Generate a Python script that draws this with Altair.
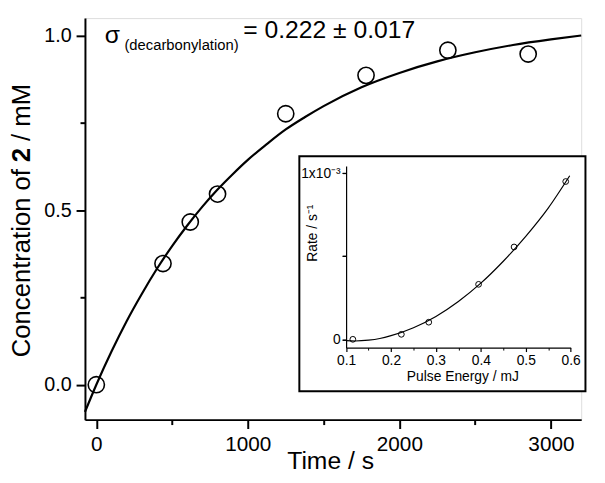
import altair as alt
import pandas as pd

# ---------------- data ----------------
time_s = [0, 440, 620, 800, 1250, 1780, 2320, 2850]
conc_mM = [0.0, 0.347, 0.466, 0.546, 0.776, 0.886, 0.958, 0.947]

fit_time = [-75, 0, 100, 200, 300, 400, 500, 600, 700, 800, 900, 1000, 1125, 1250,
            1375, 1500, 1750, 2000, 2250, 2500, 2750, 3000, 3200]
fit_conc = [-0.078, 0.0, 0.095, 0.182, 0.26, 0.332, 0.397, 0.456, 0.51, 0.559, 0.603,
            0.644, 0.689, 0.731, 0.766, 0.798, 0.852, 0.893, 0.926, 0.952, 0.973,
            0.989, 1.0]

energy_mJ = [0.115, 0.223, 0.284, 0.395, 0.474, 0.589]
rate_per_s = [0.0, 0.03e-3, 0.103e-3, 0.331e-3, 0.556e-3, 0.95e-3]

fit_energy = [0.10, 0.12, 0.15, 0.175, 0.2, 0.25, 0.3, 0.35, 0.4, 0.45, 0.5, 0.55, 0.598]
fit_rate = [-0.008e-3, -0.01e-3, -0.005e-3, 0.005e-3, 0.022e-3, 0.07e-3, 0.138e-3,
            0.228e-3, 0.338e-3, 0.47e-3, 0.62e-3, 0.79e-3, 0.985e-3]

main_x_major = [0, 1000, 2000, 3000]
main_x_minor = [500, 1500, 2500]
main_y_major = [0, 0.5, 1.0]
main_y_minor = [0.25, 0.75]
inset_x_major = [0.1, 0.2, 0.3, 0.4, 0.5, 0.6]
inset_x_minor = [0.15, 0.25, 0.35, 0.45, 0.55]
inset_y_ticks = [0, 0.0005, 0.001]

pts_df = pd.DataFrame({"t": time_s, "c": conc_mM})
fit_df = pd.DataFrame({"t": fit_time, "c": fit_conc})
ins_pts = pd.DataFrame({"e": energy_mJ, "r": rate_per_s})
ins_fit = pd.DataFrame({"e": fit_energy, "r": fit_rate})
one = pd.DataFrame({"k": [0]})

FONT = "Liberation Sans"


def make_axis(orient, values, tick_size, width, label_size=None, fmt=None,
              label_expr=None, offset=0, domain=True, zindex=0, padding=5):
    kw = dict(orient=orient, offset=offset, values=values, tickSize=tick_size,
              title=None, grid=False, domain=domain, domainWidth=width,
              tickWidth=width, domainColor="black", tickColor="black",
              zindex=zindex)
    if label_size:
        kw.update(labels=True, labelColor="black", labelFont=FONT,
                  labelFontSize=label_size, labelPadding=padding,
                  labelFlush=False, labelOverlap=False)
        if fmt:
            kw["format"] = fmt
        if label_expr:
            kw["labelExpr"] = label_expr
    else:
        kw["labels"] = False
    return alt.Axis(**kw)


# ---------------- main plot ----------------
x_main = alt.Scale(domain=[-75, 3200], nice=False, zero=False)
y_main = alt.Scale(domain=[-0.1, 1.05], nice=False, zero=False)

main_line = alt.Chart(fit_df).mark_line(
    color="black", strokeWidth=2.2, interpolate="monotone").encode(
    x=alt.X("t:Q", scale=x_main,
            axis=make_axis("bottom", main_x_minor, 5, 2, domain=False)),
    y=alt.Y("c:Q", scale=y_main,
            axis=make_axis("left", main_y_minor, 5, 2, domain=False)))

main_pts = alt.Chart(pts_df).mark_point(
    shape="circle", size=270, filled=False, color="black",
    strokeWidth=1.6, opacity=1).encode(
    x=alt.X("t:Q", scale=x_main,
            axis=make_axis("bottom", main_x_major, 9, 2, 21, fmt="d")),
    y=alt.Y("c:Q", scale=y_main,
            axis=make_axis("left", main_y_major, 9, 2, 20, fmt=".1f")))

main = alt.layer(main_line, main_pts).resolve_axis(x="independent", y="independent")


def txt(s, x, y, size=25, angle=0, align="left", weight="normal"):
    kw = dict(text=s, font=FONT, fontSize=size, align=align,
              baseline="alphabetic", color="black", fontWeight=weight)
    if angle:
        kw["angle"] = angle
    return alt.Chart(one).mark_text(**kw).encode(x=alt.value(x), y=alt.value(y))


annotations = alt.layer(
    txt("Concentration of", -56, 153, 26, 270, "right"),
    txt("2", -56, 146, 26, 270, "left", "bold"),
    txt("/ mM", -56, 124.5, 26, 270, "left"),
    txt("Time / s", 249, 456.7, 25, 0, "center"),
    txt("\u03c3", 20, 25, 25),
    txt("(decarbonylation)", 40, 32.5, 15),
    txt("= 0.222 \u00b1 0.017", 160.5, 20, 25),
)

# ---------------- inset ----------------
x_in = alt.Scale(domain=[0.1, 0.6], range=[264.7, 492.3], nice=False, zero=False)
y_in = alt.Scale(domain=[-0.05e-3, 1.043e-3], range=[334, 150], nice=False, zero=False)

inset_box = alt.Chart(one).mark_rect(fill="white", stroke="black", strokeWidth=2).encode(
    x=alt.value(217.3), x2=alt.value(507.3), y=alt.value(140), y2=alt.value(378.3))

inset_line = alt.Chart(ins_fit).mark_line(
    color="black", strokeWidth=1.2, interpolate="monotone").encode(
    x=alt.X("e:Q", scale=x_in,
            axis=make_axis("bottom", inset_x_minor, 2.5, 1, offset=-73,
                           domain=False, zindex=1)),
    y=alt.Y("r:Q", scale=y_in,
            axis=make_axis("left", inset_y_ticks, 4, 1.2, offset=-264.7,
                           zindex=1)))

inset_pts = alt.Chart(ins_pts).mark_point(
    shape="circle", size=34, filled=False, color="black",
    strokeWidth=1, opacity=1).encode(
    x=alt.X("e:Q", scale=x_in,
            axis=make_axis("bottom", inset_x_major, 4, 1.2, 14, fmt=".1f",
                           offset=-73, zindex=1, padding=2)),
    y=alt.Y("r:Q", scale=y_in,
            axis=make_axis("left", inset_y_ticks, 4, 1.2, 14,
                           label_expr="datum.value === 0 ? '0' : (datum.value > 0.0009 ? '1x10\u207b\u00b3' : '')",
                           offset=-264.7, domain=False, zindex=1, padding=2)))

inset = alt.layer(
    inset_box, inset_line, inset_pts,
    txt("Pulse Energy / mJ", 383, 368.3, 14, 0, "center"),
    txt("Rate / s\u207b\u00b9", 235, 218, 14, 270, "center"),
).resolve_axis(x="independent", y="independent")

chart = alt.layer(main, annotations, inset).resolve_scale(
    x="independent", y="independent"
).properties(
    width=503, height=407,
    autosize=alt.AutoSizeParams(type="none"),
    padding={"left": 78, "top": 7, "right": 16, "bottom": 61},
).configure_view(stroke=None).configure(background="white")

chart.save("out.html", embed_options={"renderer": "svg", "actions": False})
